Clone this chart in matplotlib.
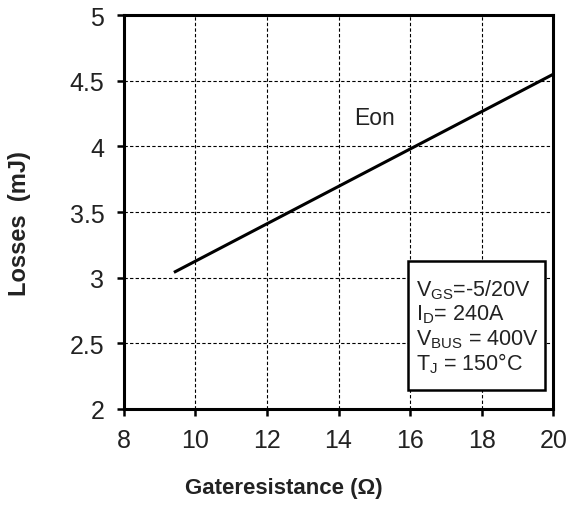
import matplotlib
matplotlib.use('Agg')
import matplotlib.pyplot as plt
from matplotlib.patches import Rectangle

plt.rcParams['font.family'] = ['Liberation Sans', 'DejaVu Sans']
plt.rcParams['mathtext.fontset'] = 'custom'
plt.rcParams['mathtext.rm'] = 'Liberation Sans'

# Eon vs gate resistance
rg = [9.4, 20]
eon = [3.04, 4.55]

xticks = [8, 10, 12, 14, 16, 18, 20]
yticks = [2, 2.5, 3, 3.5, 4, 4.5, 5]
ytick_labels = ['2', '2.5', '3', '3.5', '4', '4.5', '5']

fig = plt.figure(figsize=(5.68, 5.06), dpi=100)
ax = fig.add_axes([0.218, 0.19, 0.756, 0.778])

ax.plot(rg, eon, color='black', linewidth=2.2, solid_capstyle='butt')

ax.set_xlim(8, 20)
ax.set_ylim(2, 5)
ax.set_xticks(xticks)
ax.set_yticks(yticks)
ax.set_yticklabels(ytick_labels)
ax.tick_params(axis='both', labelsize=18, labelcolor='#222222', direction='out',
               length=5, width=1.8, pad=9)
ax.grid(True, linestyle=(0, (3, 2)), color='black', linewidth=0.8)

for s in ax.spines.values():
    s.set_linewidth(2.2)

# x label is centred on the figure, not the axes
fig.text(0.5, 1 - 489 / 506, 'Gateresistance (Ω)', fontsize=16, fontweight='bold',
         color='#222222', ha='center', va='center')
ax.set_ylabel('Losses  (mJ)', fontsize=17, fontweight='bold', color='#222222', va='center')
ax.yaxis.set_label_coords((20 - 124) / 429, (410 - 224) / 394)

ax.text(15.0, 4.22, 'Eon', fontsize=16.5, color='#222222', ha='center', va='center')

# conditions box
box = Rectangle((15.94, 2.145), 3.84, 0.985, facecolor='white', edgecolor='black',
                linewidth=1.8, zorder=3)
ax.add_patch(box)
lines = [r'V$_{\mathregular{GS}}$=-5/20V',
         r'I$_{\mathregular{D}}$= 240A',
         r'V$_{\mathregular{BUS}}$ = 400V',
         r'T$_{\mathregular{J}}$ = 150°C']
for i, t in enumerate(lines):
    ax.text(16.17, 2.91 - i * 0.187, t, fontsize=15.5, color='#222222',
            ha='left', va='center', zorder=4)

plt.savefig('out.png', dpi=100)
plt.close()
